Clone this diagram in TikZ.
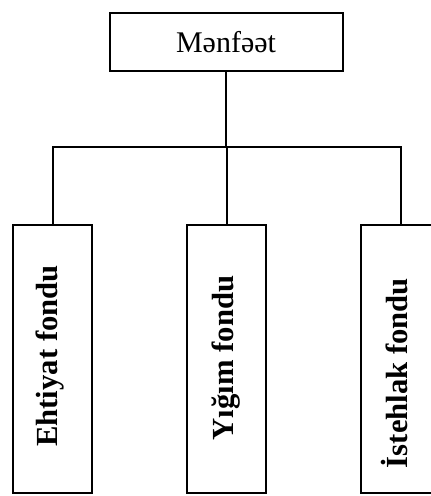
\documentclass[tikz,border=0pt]{standalone}
\usepackage{fontspec}
\setmainfont{Liberation Serif}
\begin{document}
\begin{tikzpicture}[x=0.75pt,y=-0.75pt,
  line width=1.5pt,
  topbox/.style={draw, rectangle, inner sep=0pt, minimum width=233*0.75pt, minimum height=58*0.75pt, font=\fontsize{22.5pt}{26pt}\selectfont},
  fundbox/.style={draw, rectangle, inner sep=0pt, minimum width=79*0.75pt, minimum height=268*0.75pt},
  fundtext/.style={rotate=90, inner sep=0pt, font=\bfseries\fontsize{23pt}{26pt}\selectfont}]
\useasboundingbox (0,0) rectangle (430,496);
\node[topbox] (top) at (226,42) {Mənfəət};
\node[fundbox] (b1) at (52.5,359) {};
\node[fundbox] (b2) at (226.5,359) {};
\node[fundbox] (b3) at (400.5,359) {};
\node[fundtext] (t1) at (50,356) {Ehtiyat fondu};
\node[fundtext] (t2) at (226,358) {Yığım fondu};
\node[fundtext] (t3) at (395,373) {İstehlak fondu};
\coordinate (j) at (226,147);
\draw (top.south) -- (j);
\draw (b1.north) |- (j) -| (b3.north);
\draw (b2.north |- j) -- (b2.north);
\end{tikzpicture}
\end{document}
